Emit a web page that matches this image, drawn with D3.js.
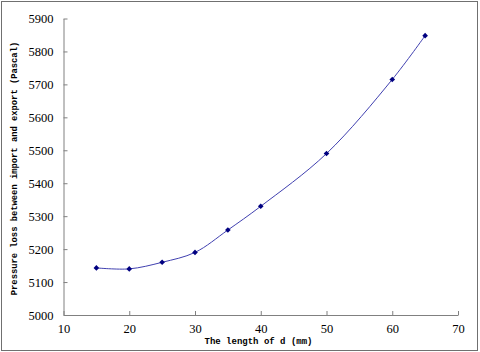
<!DOCTYPE html>
<html>
<head>
<meta charset="utf-8">
<script src="https://cdn.jsdelivr.net/npm/d3@7"></script>
<style>
  body { margin: 0; background: #fff; }
  svg { display: block; }
  .tick text { font-family: "Liberation Serif", "Times New Roman", serif; font-size: 12.5px; }
  .title { font-family: "Liberation Mono", "Courier New", monospace; font-weight: bold; }
</style>
</head>
<body>
<svg id="chart" width="480" height="352"></svg>
<script>
// data
var lengths = [15, 20, 25, 30, 35, 40, 50, 60, 65];
var pressureLoss = [5143, 5140, 5160, 5190, 5258, 5330, 5490, 5715, 5848];
var xTicks = [10, 20, 30, 40, 50, 60, 70];
var yTicks = [5000, 5100, 5200, 5300, 5400, 5500, 5600, 5700, 5800, 5900];

var svg = d3.select("#chart");
var margin = {left: 63.5, right: 22, top: 18.5, bottom: 37};
var W = 480, H = 352;

// outer frame
svg.append("rect")
    .attr("x", 1.5).attr("y", 1.5)
    .attr("width", 476).attr("height", 349)
    .attr("fill", "#fff")
    .attr("stroke", "#707070")
    .attr("stroke-width", 1);

var xScale = d3.scaleLinear().domain([10, 70]).range([margin.left, W - margin.right]);
var yScale = d3.scaleLinear().domain([5000, 5900]).range([H - margin.bottom, margin.top]);

var axisColor = "#808080";

// x axis (ticks pointing inward)
var gx = svg.append("g")
    .attr("transform", "translate(0," + yScale(5000) + ")")
    .call(d3.axisBottom(xScale).tickValues(xTicks).tickFormat(d3.format("d"))
        .tickSizeInner(-4).tickSizeOuter(0).tickPadding(9));
gx.attr("font-family", null).attr("font-size", null);
gx.select(".domain").attr("stroke", axisColor);
gx.selectAll(".tick line").attr("stroke", axisColor);
gx.selectAll(".tick text").attr("fill", "#000");

// y axis
var gy = svg.append("g")
    .attr("transform", "translate(" + xScale(10) + ",0)")
    .call(d3.axisLeft(yScale).tickValues(yTicks).tickFormat(d3.format("d"))
        .tickSizeInner(-4).tickSizeOuter(0).tickPadding(10));
gy.attr("font-family", null).attr("font-size", null);
gy.select(".domain").attr("stroke", axisColor);
gy.selectAll(".tick line").attr("stroke", axisColor);
gy.selectAll(".tick text").attr("fill", "#000");

// axis titles
svg.append("text")
    .attr("class", "title")
    .attr("x", 258.5).attr("y", 344)
    .attr("text-anchor", "middle")
    .style("font-size", "9px")
    .text("The length of d (mm)");
svg.append("text")
    .attr("class", "title")
    .attr("transform", "translate(16.5,168.5) rotate(-90)")
    .attr("text-anchor", "middle")
    .style("font-size", "8.8px")
    .text("Pressure loss between import and export (Pascal)");

// smoothed curve
var pts = lengths.map(function(d, i){ return [d, pressureLoss[i]]; });
var line = d3.line()
    .x(function(d){ return xScale(d[0]); })
    .y(function(d){ return yScale(d[1]); })
    .curve(d3.curveCatmullRom.alpha(0.5));
svg.append("path")
    .datum(pts)
    .attr("d", line)
    .attr("fill", "none")
    .attr("stroke", "#4040b0")
    .attr("stroke-width", 1);

// diamond markers
svg.selectAll(".pt")
    .data(pts)
    .enter()
    .append("path")
    .attr("class", "pt")
    .attr("d", d3.symbol().type(d3.symbolDiamond2).size(20))
    .attr("transform", function(d){ return "translate(" + xScale(d[0]) + "," + yScale(d[1]) + ")"; })
    .attr("fill", "#000080");
</script>
</body>
</html>
